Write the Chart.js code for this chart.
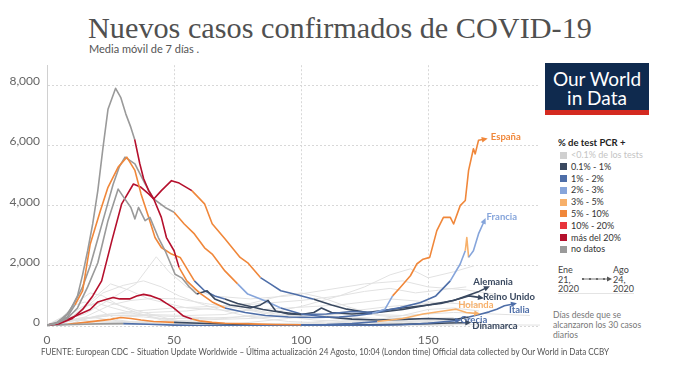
<!DOCTYPE html>
<html lang="es">
<head>
<meta charset="utf-8">
<title>Nuevos casos confirmados de COVID-19</title>
<script src="https://cdn.jsdelivr.net/npm/chart.js@4.4.1/dist/chart.umd.min.js"></script>
<style>
  html, body { margin: 0; padding: 0; background: #fff; }
  body { width: 680px; height: 383px; position: relative; overflow: hidden; font-family: Lato, 'Noto Sans', sans-serif; color: #333; }
  #titulo { position: absolute; left: 88px; top: 13px; font-family: 'Liberation Serif', 'DejaVu Serif', serif; font-size: 30px; line-height: 30px; color: #505050; white-space: nowrap; transform-origin: 0 0; }
  #subtitulo { position: absolute; left: 89px; top: 43px; font-size: 11px; line-height: 11px; color: #555; white-space: nowrap; }
  #grafico { position: absolute; left: 0; top: 51px; width: 552px; height: 300px; }
  #logo { position: absolute; left: 545px; top: 63px; width: 104px; height: 52px; background: #0f2a4e; border-bottom: 5px solid #d42a20; box-sizing: border-box; color: #fff; text-align: center; }
  #logo div { font-size: 19px; line-height: 19px; }
  #leyenda { position: absolute; left: 558px; top: 137px; font-size: 9px; }
  #leyenda .tit { font-weight: bold; font-size: 9.5px; color: #222; height: 12px; line-height: 12px; }
  #leyenda .fila { height: 11.8px; line-height: 11.8px; white-space: nowrap; }
  #leyenda .cuad { display: inline-block; width: 7px; height: 7px; margin: 0 4px 0 2px; vertical-align: -0.5px; }
  .fecha { position: absolute; top: 265px; font-size: 9px; line-height: 9.6px; color: #444; }
  #nota { position: absolute; left: 553px; top: 310px; font-size: 8.6px; line-height: 10px; color: #777; }
  #fuente { position: absolute; left: 41px; top: 347px; font-size: 9px; line-height: 9px; color: #555; white-space: nowrap; transform-origin: 0 0; }
</style>
</head>
<body>
<div id="titulo">Nuevos casos confirmados de COVID-19</div>
<div id="subtitulo">Media móvil de 7 días .</div>
<canvas id="grafico" width="552" height="300"></canvas>
<div id="logo"><div style="margin-top:6px">Our World</div><div>in Data</div></div>
<div id="leyenda"></div>
<div class="fecha" style="left:558px">Ene<br>21,<br>2020</div>
<svg style="position:absolute;left:580px;top:274px" width="34" height="10">
  <line x1="2" y1="5" x2="30" y2="5" stroke="#555" stroke-width="0.8"/>
  <circle cx="3" cy="5" r="1.1" fill="#555"/><circle cx="10" cy="5" r="1.1" fill="#555"/>
  <circle cx="17" cy="5" r="1.1" fill="#555"/><circle cx="24" cy="5" r="1.1" fill="#555"/>
  <path d="M27 2.5 L32 5 L27 7.5 Z" fill="#555"/>
</svg>
<div class="fecha" style="left:613px">Ago<br>24,<br>2020</div>
<div style="position:absolute;left:558px;top:293px;width:76px;height:1px;background:#e4e4e4"></div>
<div id="nota">Días desde que se<br>alcanzaron los 30 casos<br>diarios</div>
<div id="fuente">FUENTE: European CDC – Situation Update Worldwide – Última actualización 24 Agosto, 10:04 (London time) Official data collected by Our World in Data CCBY</div>

<script>
// ejes
const xTicks = [0, 50, 100, 150];
const yTicks = [0, 2000, 4000, 6000, 8000];

// leyenda: % de tests PCR positivos
const leyendaClaves = ['c00', 'c01', 'c1', 'c2', 'c3', 'c5', 'c10', 'r20', 'nd'];
const leyendaTextos = ['<0.1% de los tests', '0.1% - 1%', '1% - 2%', '2% - 3%', '3% - 5%', '5% - 10%', '10% - 20%', 'más del 20%', 'no datos'];

const colores = {
    nd: '#9a9a9a', c00: '#d0d0d0', c01: '#3a4960', c1: '#4e6ea8', c2: '#86a5db',
    c3: '#f7b06a', c5: '#f0873a', c10: '#e8343b', r20: '#b5102d'
};

// países destacados: días desde 30 casos, casos (media 7 días), tramos de color [día, clave]
const esDias  = [0, 3, 6, 9, 12, 14, 16, 18, 20, 22, 24, 27, 29, 31, 33, 34.5, 36.5, 38, 40, 42, 45, 47, 50, 52, 55, 60, 65, 70, 78, 86, 95, 105, 115, 122, 128, 133, 136, 139, 143, 145.5, 148, 150.6, 153.4, 156, 158.7, 160, 162.6, 164.6, 165.9, 167.8, 168.5, 169.8, 171.5];
const esCasos = [30, 70, 200, 500, 1000, 1700, 2500, 3400, 4500, 5900, 7200, 7900, 7600, 7050, 6600, 6200, 5400, 4900, 4500, 4220, 3610, 2940, 2500, 1940, 1500, 1100, 800, 600, 450, 350, 300, 280, 300, 350, 420, 560, 1000, 1280, 1670, 2060, 2220, 2280, 3170, 3610, 3610, 3390, 4000, 4170, 5170, 5890, 5720, 6170, 6200];
const esTramos = [[0, 'nd'], [34.5, 'r20'], [52, 'c5'], [70, 'c1'], [128, 'c2'], [136, 'c5']];

const itDias  = [0, 4, 8, 11, 14, 17, 20, 23, 26, 28.5, 30.7, 34.6, 38.6, 42, 46.5, 50, 54, 58, 62, 65, 70, 75, 79, 86, 92, 100, 110, 120, 130, 140, 150, 161, 166, 170.5, 174, 177, 180, 183];
const itCasos = [30, 120, 400, 800, 1300, 2000, 2900, 3800, 4700, 5300, 5610, 5390, 4720, 4220, 3940, 3780, 3390, 3060, 2600, 2390, 1830, 1400, 1060, 830, 600, 400, 300, 230, 200, 220, 250, 220, 300, 390, 470, 560, 670, 720];
const itTramos = [[0, 'nd'], [50, 'c5'], [75, 'c2'], [92, 'c1'], [105, 'c01'], [165, 'c1']];

const deDias  = [0, 4, 8, 11, 14, 17, 21, 24, 28, 31.4, 34.6, 37, 40, 42.5, 45, 49, 52.4, 55.6, 58, 62, 66, 70, 75, 80, 85, 90, 100, 105, 108, 112, 120, 130, 140, 150, 160, 165, 170, 172.5];
const deCasos = [30, 100, 300, 700, 1170, 2720, 3830, 4610, 5280, 5610, 5170, 4390, 3610, 2940, 2610, 2390, 2280, 1830, 1500, 1170, 1000, 900, 750, 650, 550, 480, 380, 450, 600, 450, 400, 450, 550, 700, 850, 1000, 1150, 1250];
const deTramos = [[0, 'nd'], [11, 'c5'], [58, 'c1'], [70, 'c01']];

const ukDias  = [0, 5, 10, 14, 18, 21.5, 25.5, 29.4, 34, 37, 40, 42, 45, 49, 52, 57, 62, 65, 70, 76, 79, 84, 88, 92, 98, 105, 112, 118, 126, 135, 145, 155, 162, 166, 170];
const ukCasos = [30, 80, 250, 550, 1000, 1500, 2830, 4060, 4720, 4610, 4390, 4220, 4500, 4830, 4750, 4500, 4060, 3400, 2900, 2280, 2100, 1610, 1390, 1170, 1050, 890, 700, 560, 450, 550, 650, 750, 900, 1000, 950];
const ukTramos = [[0, 'r20'], [56, 'c5'], [80, 'c1'], [100, 'c01']];

const frDias  = [0, 4, 8, 12, 16, 20, 22, 24, 28, 30, 33, 34.6, 36, 38.6, 40.5, 43.8, 46.5, 50.4, 53, 56, 59, 63, 66, 72, 80, 84, 87, 90, 95, 100, 110, 120, 130, 135, 139, 147, 153, 158.7, 162.6, 164.6, 165.2, 165.9, 167.8, 169.8, 171.8];
const frCasos = [30, 90, 250, 600, 1300, 2100, 2800, 3500, 4550, 4300, 3940, 3560, 3940, 3500, 3610, 2940, 2500, 1720, 1600, 1300, 1060, 1170, 900, 700, 600, 700, 850, 500, 400, 380, 400, 480, 450, 550, 610, 780, 1000, 1500, 2060, 2500, 2940, 2280, 2500, 3060, 3440];
const frTramos = [[0, 'nd'], [58, 'c01'], [100, 'c1'], [158, 'c2'], [164.6, 'c3'], [165.9, 'c2']];

const nlDias  = [0, 5, 9, 13, 17, 20, 23.5, 26, 28.6, 32.5, 35.3, 38, 41, 44.5, 47, 49.7, 53.7, 57, 60, 65, 70, 80, 90, 100, 110, 120, 130, 140, 148, 156, 161, 165, 168.5];
const nlCasos = [30, 100, 250, 400, 550, 800, 890, 950, 900, 900, 1000, 1050, 1000, 890, 750, 610, 330, 230, 170, 120, 90, 70, 50, 40, 50, 80, 150, 250, 400, 500, 560, 450, 420];
const nlTramos = [[0, 'r20'], [55, 'c5'], [95, 'c1'], [130, 'c3']];

const grDias  = [0, 10, 20, 30, 40, 50, 60, 80, 100, 120, 130, 140, 150, 156, 161];
const grCasos = [30, 50, 70, 80, 60, 30, 15, 10, 10, 20, 30, 40, 90, 140, 180];
const grTramos = [[0, 'nd'], [30, 'c1']];

const dkDias  = [0, 8, 15, 20, 25, 29, 33, 37, 42, 50, 60, 80, 100, 120, 140, 150, 158, 165];
const dkCasos = [30, 60, 120, 170, 220, 280, 250, 200, 150, 120, 90, 40, 30, 30, 60, 80, 100, 110];
const dkTramos = [[0, 'nd'], [8, 'c5'], [45, 'c01']];

// resto de países (gris claro): [día, casos]
const fondoA = [[0,30],[8,200],[15,600],[22,1100],[30,1350],[38,1500],[45,1300],[52,1000],[60,750],[70,500],[80,300],[95,150],[110,100],[125,150],[140,350],[150,550],[160,600],[170,500]];
const fondoB = [[0,30],[6,250],[12,800],[17,1100],[22,1000],[28,700],[35,450],[45,200],[60,50],[90,20],[120,100],[150,180],[165,250]];
const fondoC = [[0,30],[10,100],[20,350],[35,500],[50,600],[65,650],[80,750],[92,1000],[100,1100],[108,950],[118,650],[130,350],[145,250],[160,220]];
const fondoD = [[0,30],[7,250],[14,650],[20,750],[26,600],[35,400],[45,250],[60,250],[75,300],[90,350],[105,350],[120,300],[140,200],[160,200]];
const fondoE = [[0,30],[8,200],[15,650],[22,850],[28,700],[38,450],[50,200],[65,60],[90,15],[125,30],[145,80],[160,100]];
const fondoF = [[0,30],[12,200],[25,400],[40,450],[55,500],[70,650],[85,750],[100,850],[115,1000],[125,1300],[135,1700],[143,1900],[150,1600],[160,1800],[168,2000]];
const fondoG = [[0,30],[12,200],[25,350],[40,350],[55,300],[70,250],[85,400],[100,650],[115,1000],[125,1150],[135,1250],[145,1100],[155,1200],[165,1300]];
const fondoH = [[0,30],[12,250],[25,350],[40,380],[55,350],[70,380],[80,550],[90,400],[105,350],[120,500],[135,650],[150,750],[160,800]];
const fondoI = [[0,30],[15,300],[25,700],[33,850],[42,920],[52,900],[62,750],[75,600],[90,350],[105,200],[120,130],[140,100]];
const fondoJ = [[0,30],[6,300],[11,700],[15,800],[20,550],[28,200],[40,70],[70,40],[110,80],[140,100],[160,200]];
const fondoK = [[0,30],[10,200],[18,280],[30,150],[50,70],[80,60],[100,100],[115,200],[130,150],[150,250],[160,280]];
const fondoL = [[0,30],[12,200],[25,350],[38,300],[55,150],[75,80],[95,250],[105,350],[115,300],[130,200],[150,120]];
const fondoM = [[0,30],[6,250],[12,200],[25,120],[45,50],[80,15],[130,30],[160,60]];
const fondoN = [[0,30],[15,120],[30,150],[45,90],[70,30],[120,15],[160,25]];
const fondoO = [[0,30],[20,80],[40,150],[60,200],[80,250],[100,350],[120,400],[140,350],[160,450],[190,350]];
const fondoP = [[0,30],[15,400],[25,900],[35,1400],[43,2300],[48,1800],[55,1300],[65,1000],[80,900],[95,1000],[110,1200],[125,1400],[140,1500],[150,1300],[165,1200],[180,1000]];
const fondoQ = [[0,30],[10,300],[18,900],[25,1400],[32,1200],[40,900],[55,600],[75,500],[95,600],[115,700],[135,900],[150,800],[170,700]];
const fondoR = [[0,30],[30,60],[60,40],[100,30],[150,50],[194,30]];

const destacados = [
    { nombre: 'España', dias: esDias, casos: esCasos, tramos: esTramos, dx: 8, dy: -2 },
    { nombre: 'Francia', dias: frDias, casos: frCasos, tramos: frTramos, dx: 3, dy: -6 },
    { nombre: 'Alemania', dias: deDias, casos: deCasos, tramos: deTramos, dx: -12, dy: -6 },
    { nombre: 'Reino Unido', dias: ukDias, casos: ukCasos, tramos: ukTramos, dx: 4, dy: 0 },
    { nombre: 'Holanda', dias: nlDias, casos: nlCasos, tramos: nlTramos, dx: -17, dy: -8 },
    { nombre: 'Italia', dias: itDias, casos: itCasos, tramos: itTramos, dx: -3, dy: 6 },
    { nombre: 'Grecia', dias: grDias, casos: grCasos, tramos: grTramos, dx: 4, dy: -1 },
    { nombre: 'Dinamarca', dias: dkDias, casos: dkCasos, tramos: dkTramos, dx: 6, dy: 3 }
];
const fondos = [fondoA, fondoB, fondoC, fondoD, fondoE, fondoF, fondoG, fondoH, fondoI, fondoJ, fondoK, fondoL, fondoM, fondoN, fondoO, fondoP, fondoQ, fondoR];

function claveEn(tramos, dia) {
    let k = tramos[0][1];
    tramos.forEach(t => { if (dia >= t[0]) k = t[1]; });
    return k;
}

// leyenda
const leyenda = document.getElementById('leyenda');
leyenda.innerHTML = '<div class="tit">% de test PCR +</div>' + leyendaClaves.map((k, i) =>
    `<div class="fila" style="color:${k === 'c00' ? '#c4c4c4' : '#333'}"><span class="cuad" style="background:${colores[k]}"></span>${leyendaTextos[i]}</div>`
).join('');

// ajustar anchos de título y fuente
const titulo = document.getElementById('titulo');
titulo.style.transform = `scaleX(${504 / titulo.offsetWidth})`;
const fuente = document.getElementById('fuente');
fuente.style.transform = `scaleX(${568 / fuente.offsetWidth})`;

const datasets = [];
destacados.forEach(p => {
    datasets.push({
        label: p.nombre,
        data: p.dias.map((d, i) => ({ x: d, y: p.casos[i] })),
        borderColor: colores[p.tramos[0][1]],
        borderWidth: 1.6,
        segment: { borderColor: ctx => colores[claveEn(p.tramos, ctx.p0.parsed.x)] },
        order: 0
    });
});
fondos.forEach((f, i) => {
    datasets.push({
        label: 'otro ' + i,
        data: f.map(v => ({ x: v[0], y: v[1] })),
        borderColor: '#e2e2e2',
        borderWidth: 1,
        order: 1
    });
});

// flechas y nombres al final de las líneas destacadas
const etiquetas = {
    id: 'etiquetas',
    afterDatasetsDraw(chart) {
        const ctx = chart.ctx;
        destacados.forEach((p, i) => {
            const pts = chart.getDatasetMeta(i).data;
            const a = pts[pts.length - 2], b = pts[pts.length - 1];
            const ang = Math.atan2(b.y - a.y, b.x - a.x);
            const col = colores[claveEn(p.tramos, p.dias[p.dias.length - 2])];
            ctx.save();
            ctx.fillStyle = col;
            ctx.translate(b.x, b.y);
            ctx.rotate(ang);
            ctx.beginPath();
            ctx.moveTo(5, 0);
            ctx.lineTo(-1, -2.8);
            ctx.lineTo(-1, 2.8);
            ctx.closePath();
            ctx.fill();
            ctx.restore();
            ctx.save();
            ctx.font = 'bold 9.5px Lato';
            ctx.fillStyle = col;
            ctx.textBaseline = 'middle';
            ctx.fillText(p.nombre, b.x + p.dx, b.y + p.dy);
            ctx.restore();
        });
    }
};

new Chart(document.getElementById('grafico'), {
    type: 'line',
    data: { datasets },
    options: {
        responsive: false,
        animation: false,
        devicePixelRatio: 1,
        layout: { padding: { top: 5, right: 12, left: 0, bottom: 0 } },
        elements: { point: { radius: 0 }, line: { tension: 0, borderJoinStyle: 'round' } },
        plugins: { legend: { display: false }, tooltip: { enabled: false } },
        scales: {
            x: {
                type: 'linear', min: 0, max: 194,
                afterBuildTicks: s => { s.ticks = xTicks.map(v => ({ value: v })); },
                afterFit: s => { s.height = 25; },
                grid: { color: c => c.tick && c.tick.value === 0 ? 'rgba(0,0,0,0)' : '#d8d8d8', drawTicks: false },
                border: { display: false, dash: [2, 2] },
                ticks: { padding: 7, color: '#666', font: { family: 'Lato', size: 12 }, maxRotation: 0 }
            },
            y: {
                min: 0, max: 8667,
                afterBuildTicks: s => { s.ticks = yTicks.map(v => ({ value: v })); },
                afterFit: s => { s.width = 47; },
                grid: { color: '#d8d8d8', drawTicks: false },
                border: { display: true, color: '#d0d0d0', dash: [2, 2] },
                ticks: { padding: 7, labelOffset: -4, color: '#666', font: { family: 'Lato', size: 12 }, callback: v => v.toLocaleString('en-US') }
            }
        }
    },
    plugins: [etiquetas]
});
</script>
</body>
</html>
